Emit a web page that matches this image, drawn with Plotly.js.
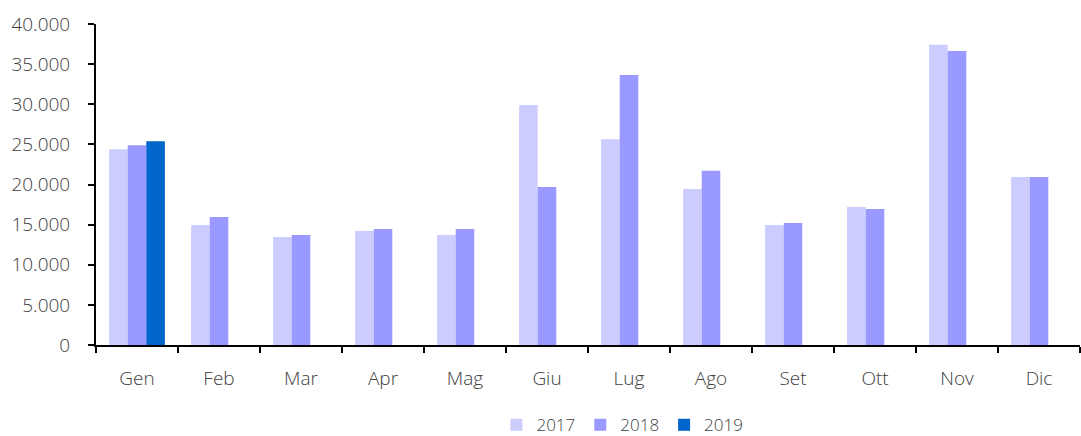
<!DOCTYPE html>
<html>
<head>
<meta charset="utf-8">
<script src="https://cdn.plot.ly/plotly-3.0.1.min.js"></script>
<style>html,body{margin:0;padding:0;background:#fff;}#chart{width:1081px;height:436px;}</style>
</head>
<body>
<div id="chart"></div>
<script>
const months = ["Gen","Feb","Mar","Apr","Mag","Giu","Lug","Ago","Set","Ott","Nov","Dic"];
const v2017 = [24400, 14950, 13450, 14200, 13700, 29900, 25650, 19450, 14950, 17200, 37400, 20950];
const v2018 = [24900, 15950, 13700, 14450, 14450, 19700, 33650, 21700, 15200, 16950, 36650, 20950];
const v2019 = [25400, null, null, null, null, null, null, null, null, null, null, null];
const seriesNames = ["2017","2018","2019"];
const colors = ["#ccccff","#9999ff","#0066cc"];

const font = {family: "Open Sans, sans-serif", size: 19, color: "#404040", weight: 300};
const legendFont = {family: "Open Sans, sans-serif", size: 17, color: "#404040", weight: 300};
const data = [v2017, v2018, v2019].map((vals, i) => ({
  type: "bar", x: months, y: vals, name: seriesNames[i],
  marker: {color: colors[i]}, hoverinfo: "skip"
}));

const layout = {
  width: 1081, height: 436,
  margin: {l: 96, r: 1, t: 24, b: 91, autoexpand: false},
  paper_bgcolor: "#fff", plot_bgcolor: "#fff",
  font: font,
  separators: ",.",
  barmode: "group", bargap: 0.32, bargroupgap: 0,
  showlegend: true,
  legend: {orientation: "h", x: 0.535, xanchor: "center", y: -0.25, yanchor: "middle",
           font: legendFont, itemwidth: 30, traceorder: "normal", tracegroupgap: 0},
  xaxis: {
    type: "category", showline: true, linecolor: "#000", linewidth: 2,
    ticks: "outside", tickson: "boundaries", ticklen: 6, tickcolor: "#000", tickwidth: 2,
    showgrid: false, zeroline: false, ticklabelstandoff: 15, tickfont: font, automargin: false
  },
  yaxis: {
    range: [0, 40000], dtick: 5000, tick0: 0, tickformat: ",d",
    showline: true, linecolor: "#000", linewidth: 2,
    ticks: "outside", ticklen: 6, tickcolor: "#000", tickwidth: 2,
    showgrid: false, zeroline: false, tickfont: font, ticklabelstandoff: 14, automargin: false
  }
};
Plotly.newPlot("chart", data, layout, {displayModeBar: false, staticPlot: true});
</script>
</body>
</html>
